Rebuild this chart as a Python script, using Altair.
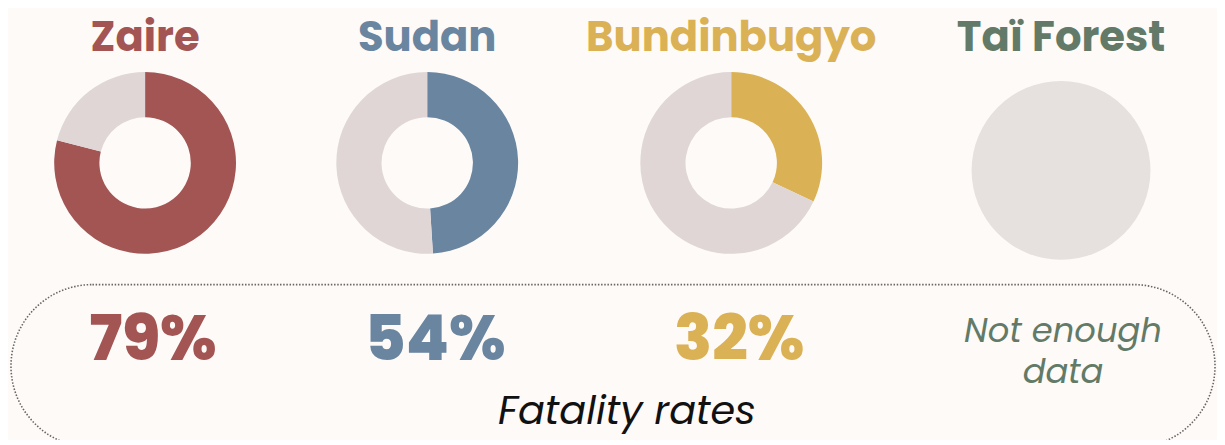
import math
import altair as alt
import pandas as pd

# ---- data ----
species = ["Zaire", "Sudan", "Bundinbugyo", "Taï Forest"]
ring_share = [79, 49, 32]          # fatal share drawn in the rings (Taï Forest: no ring data)
rate_labels = ["79%", "54%", "32%"]
no_data_label = "Not enough\ndata"
caption = "Fatality rates"

species_colors = ["#a25553", "#6985a0", "#dab154", "#627a67"]
rest_color = "#dfd6d5"
empty_color = "#e6e0df"
bg = "#fdfaf8"

idx = list(range(len(species)))

ring_rows = []
for i, (s, v) in enumerate(zip(species[:3], ring_share)):
    ring_rows.append({"species": s, "idx": i, "key": s, "start": 0, "end": v})
    ring_rows.append({"species": s, "idx": i, "key": "rest", "start": v, "end": 100})
ring_df = pd.DataFrame(ring_rows)

empty_df = pd.DataFrame([{"species": species[3], "idx": 3, "key": "none", "start": 0, "end": 100}])
title_df = pd.DataFrame({"species": species, "idx": idx, "key": species})
rate_df = pd.DataFrame({"species": species[:3], "idx": idx[:3], "key": species[:3], "label": rate_labels})
nodata_df = pd.DataFrame([{"species": species[3], "idx": 3, "key": species[3], "label": no_data_label}])
caption_df = pd.DataFrame([{"label": caption}])
frame_df = pd.DataFrame([{"label": "frame"}])

xscale = alt.Scale(domain=[0, 1, 2, 3], range=[138, 422, 728, 1060], nice=False, zero=False)
X = alt.X("idx:Q", scale=xscale, axis=None, stack=False)
color_scale = alt.Scale(domain=species + ["rest", "none"],
                        range=species_colors + [rest_color, empty_color])
C = alt.Color("key:N", scale=color_scale, legend=None)
theta_scale = alt.Scale(domain=[0, 100], range=[0, 2 * math.pi])

rings = alt.Chart(ring_df).mark_arc(radius=91.5, innerRadius=46).encode(
    x=X,
    y=alt.value(154.5),
    theta=alt.Theta("start:Q", scale=theta_scale, stack=False),
    theta2="end:Q",
    color=C,
)

empty = alt.Chart(empty_df).mark_arc(radius=90, innerRadius=0).encode(
    x=X,
    y=alt.value(162),
    theta=alt.Theta("start:Q", scale=theta_scale, stack=False),
    theta2="end:Q",
    color=C,
)

titles = alt.Chart(title_df).mark_text(
    font="Poppins", fontSize=42, fontWeight="bold", baseline="alphabetic", align="center"
).encode(x=X, y=alt.value(42), text="species:N", color=C)

rates = alt.Chart(rate_df).mark_text(
    font="Poppins", fontSize=63, fontWeight=800, baseline="alphabetic", align="center", dx=8
).encode(x=X, y=alt.value(353), text="label:N", color=C)

nodata = alt.Chart(nodata_df).mark_text(
    font="Poppins", fontSize=34, fontStyle="italic", baseline="alphabetic",
    align="center", lineBreak="\n", lineHeight=41, dx=2
).encode(x=X, y=alt.value(335), text="label:N", color=C)

cap = alt.Chart(caption_df).mark_text(
    font="Poppins", fontSize=40, fontStyle="italic", baseline="alphabetic",
    align="center", color="#111111"
).encode(x=alt.value(623), y=alt.value(417), text="label:N")

frame = alt.Chart(frame_df).mark_rect(
    cornerRadius=82, fill=bg, fillOpacity=0, stroke="#666666", strokeWidth=1.6,
    strokeDash=[1.5, 1.7]
).encode(x=alt.value(3), x2=alt.value(1215), y=alt.value(277), y2=alt.value(441))

chart = alt.layer(frame, rings, empty, titles, rates, nodata, cap).properties(
    width=1217, height=432,
    autosize=alt.AutoSizeParams(type="none"),
    padding=0,
    background=bg,
).configure_view(stroke=None)

chart.save("out.html", embed_options={"renderer": "svg", "actions": False})
